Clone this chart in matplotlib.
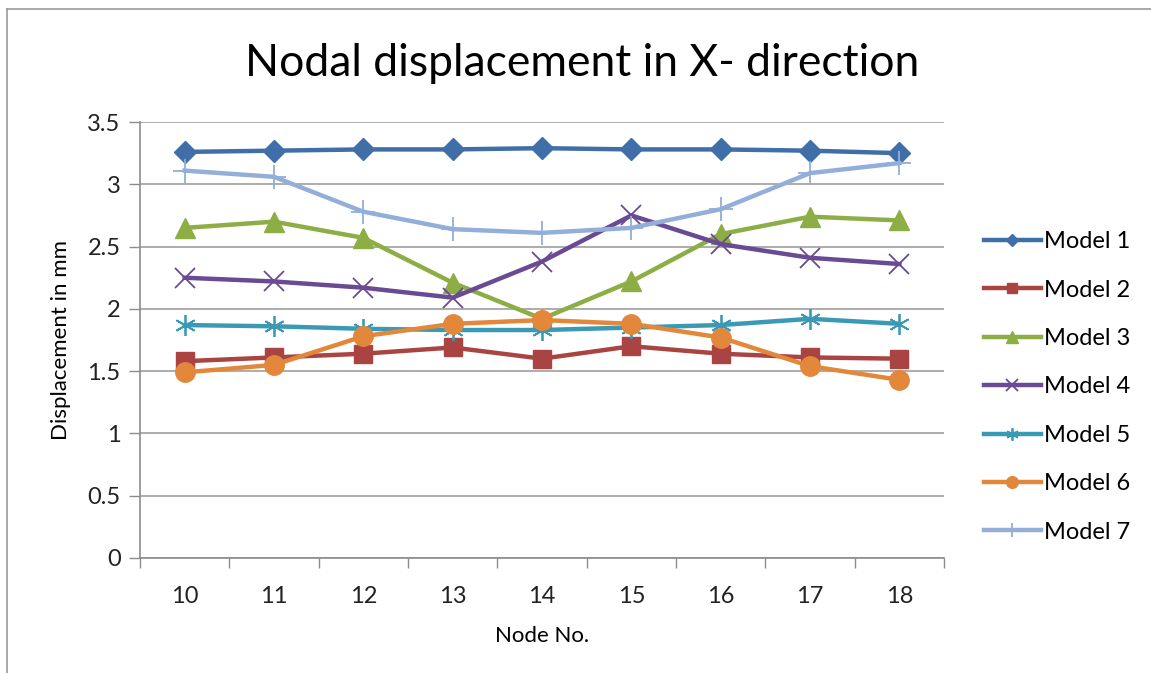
import matplotlib
matplotlib.use("Agg")
import matplotlib.pyplot as plt
from matplotlib.lines import Line2D

plt.rcParams['font.family'] = ['Lato', 'DejaVu Sans']

# node numbers on the x axis
nodes = [10, 11, 12, 13, 14, 15, 16, 17, 18]

# displacement (mm)
model1 = [3.26, 3.27, 3.28, 3.28, 3.29, 3.28, 3.28, 3.27, 3.25]
model2 = [1.58, 1.61, 1.64, 1.69, 1.60, 1.70, 1.64, 1.61, 1.60]
model3 = [2.65, 2.70, 2.57, 2.21, 1.92, 2.22, 2.60, 2.74, 2.71]
model4 = [2.25, 2.22, 2.17, 2.09, 2.38, 2.75, 2.52, 2.41, 2.36]
model5 = [1.87, 1.86, 1.84, 1.83, 1.83, 1.85, 1.87, 1.92, 1.88]
model6 = [1.49, 1.55, 1.78, 1.88, 1.91, 1.88, 1.77, 1.54, 1.43]
model7 = [3.11, 3.06, 2.78, 2.64, 2.61, 2.65, 2.80, 3.09, 3.17]

labels = ['Model 1', 'Model 2', 'Model 3', 'Model 4', 'Model 5', 'Model 6', 'Model 7']
series = [model1, model2, model3, model4, model5, model6, model7]
colors = ['#3f6ea9', '#a94443', '#8cae45', '#6a4a92', '#3a9ab6', '#e3873a', '#93aed8']
markers = ['D', 's', '^', 'x', (6, 2, 0), 'o', '+']
sizes = [11, 13, 14, 14, 15, 14, 17]

fig = plt.figure(figsize=(11.51, 6.73), dpi=100)
ax = fig.add_axes([0.1216, 0.1709, 0.6986, 0.6478])

pos = list(range(len(nodes)))
for vals, lab, c, m, s in zip(series, labels, colors, markers, sizes):
    mew = 1.3 if m in ('x', '+', (6, 2, 0)) else 1
    ax.plot(pos, vals, color=c, lw=3.2, marker=m, ms=s, mew=mew,
            mec=c, mfc=c, label=lab)

ax.set_xlim(-0.5, len(nodes) - 0.5)
ax.set_ylim(0, 3.5)
ax.set_yticks([0, 0.5, 1, 1.5, 2, 2.5, 3, 3.5])
ax.set_yticklabels(['0', '0.5', '1', '1.5', '2', '2.5', '3', '3.5'])
ax.set_xticks(pos)
ax.set_xticklabels([str(n) for n in nodes])
ax.set_xticks([p - 0.5 for p in pos] + [len(nodes) - 0.5], minor=True)
ax.tick_params(axis='x', which='major', length=0, labelsize=17, pad=20, colors='#222222')
ax.tick_params(axis='x', which='minor', length=7, width=1, color='#8c8c8c')
ax.tick_params(axis='y', length=8, width=1, color='#8c8c8c', labelsize=17, pad=6,
               labelcolor='#222222')

ax.grid(axis='y', color='#a6a6a6', lw=1.3)
ax.set_axisbelow(True)
for side in ['top', 'right']:
    ax.spines[side].set_visible(False)
for side in ['left', 'bottom']:
    ax.spines[side].set_color('#8c8c8c')
    ax.spines[side].set_linewidth(1.2)

ax.set_xlabel('Node No.', fontsize=16, labelpad=14)
ax.set_ylabel('Displacement in mm', fontsize=16, labelpad=12)
fig.text(0.506, 0.905, 'Nodal displacement in X- direction', fontsize=32,
         ha='center', va='center')

ax.legend(loc='center left', bbox_to_anchor=(0.855, 0.425),
          bbox_transform=fig.transFigure, frameon=False, fontsize=17,
          borderpad=0, borderaxespad=0,
          handlelength=2.4, handletextpad=0.15, labelspacing=1.16,
          markerscale=0.6)

# outer chart frame (left and top edges visible)
fig.add_artist(Line2D([0.0065, 0.0065], [0.0, 0.987], transform=fig.transFigure,
                      color='#9a9a9a', lw=1.2))
fig.add_artist(Line2D([0.0065, 1.0], [0.987, 0.987], transform=fig.transFigure,
                      color='#9a9a9a', lw=1.2))

fig.savefig('out.png', dpi=100)
